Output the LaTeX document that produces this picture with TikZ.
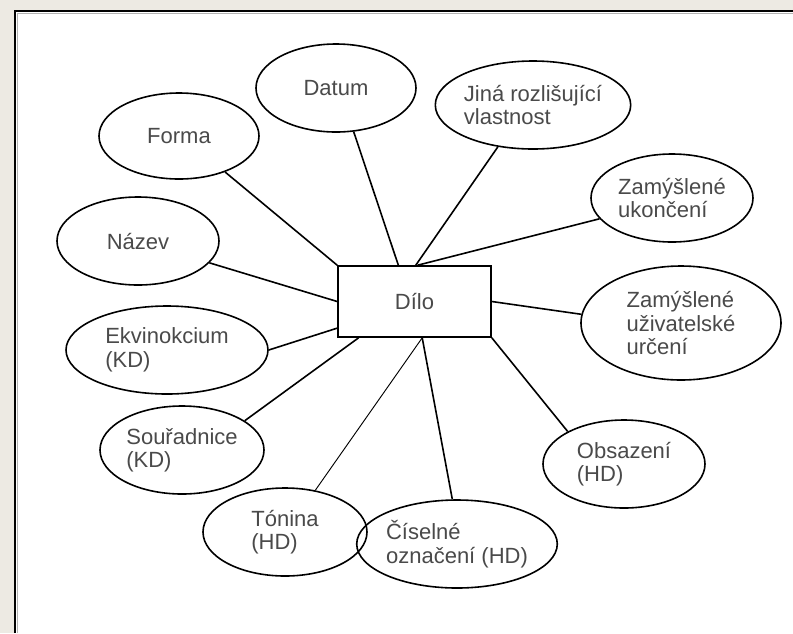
\documentclass[tikz,border=0pt]{standalone}
\usepackage{fontspec}
\setmainfont{Liberation Sans}
\usepackage{tikz}
\usetikzlibrary{shapes.geometric}
\definecolor{pagebg}{HTML}{EDEAE3}
\definecolor{txtgray}{HTML}{4A4A4A}
\tikzset{attr/.style={ellipse, draw, line width=1.2pt, inner sep=0pt,
         minimum width=121.5pt, minimum height=66pt, align=left,
         text=txtgray, font=\fontsize{16.5}{17.6}\selectfont},
         entity/.style={rectangle, draw, line width=1.2pt, inner sep=0pt,
         minimum width=114.75pt, minimum height=53.25pt,
         text=txtgray, font=\fontsize{16.5}{17.6}\selectfont},
         link/.style={line width=1.2pt},
         thinlink/.style={line width=0.7pt}}

\begin{document}
\begin{tikzpicture}[x=0.75pt, y=-0.75pt]
        \useasboundingbox (0,0) rectangle (793,633);
        \fill[pagebg] (0,0) rectangle (793,633);
        \fill[white] (14,10) rectangle (793,633);
        \draw[line width=1.5pt] (15,633) |- (793,11);
        \draw[gray!60, line width=0.75pt] (17.5,633) |- (793,13.5);
        
        % Entity
        \node[entity] (dilo) at (414.5,301.5) {Dílo};
        
        % Attributes
        \node[attr, minimum width=120pt] (datum) at (336,88) {Datum};
        \node[attr, minimum width=120pt, minimum height=64.5pt] (forma) at (179,136) {Forma};
        \node[attr] (nazev) at (138,241) {Název};
        \node[attr, minimum width=145.5pt] (jina) at (533,105) {Jiná rozlišující\\vlastnost};
        \node[attr] (ukonceni) at (672,198) {Zamýšlené\\ukončení};
        \node[attr, minimum width=150pt, minimum height=85.5pt] (urceni) at (681,323) {Zamýšlené\\uživatelské\\určení};
        \node[attr] (obsazeni) at (624,464) {Obsazení\\(HD)};
        \node[attr] (ciselne) at (457,544) {Číselné\\označení (HD)};
        \node[attr, minimum width=123pt] (tonina) at (285,532) {Tónina\\(HD)};
        \node[attr, minimum width=123pt] (souradnice) at (182,450) {Souřadnice\\(KD)};
        \node[attr, minimum width=151.5pt] (ekvinokcium) at (167,350) {Ekvinokcium\\(KD)};
        
        % Connectors
        \draw[link] (datum.292) -- (dilo.114);
        \draw[link] (forma.322) -- (dilo.north west);
        \draw[link] (nazev.343) -- (dilo.west);
        \draw[link] (jina.230) -- (dilo.88);
        \draw[link] (ukonceni.196) -- (dilo.85);
        \draw[link] (urceni.175) -- (dilo.east);
        \draw[link] (obsazeni.150) -- (dilo.south east);
        \draw[link] (ciselne.96) -- (dilo.282);
        \draw[thinlink] (tonina.54) -- (dilo.282);
        \draw[link] (souradnice.25) -- (dilo.213);
        \draw[link] (ekvinokcium.east) -- (dilo.199);
\end{tikzpicture}
\end{document}
